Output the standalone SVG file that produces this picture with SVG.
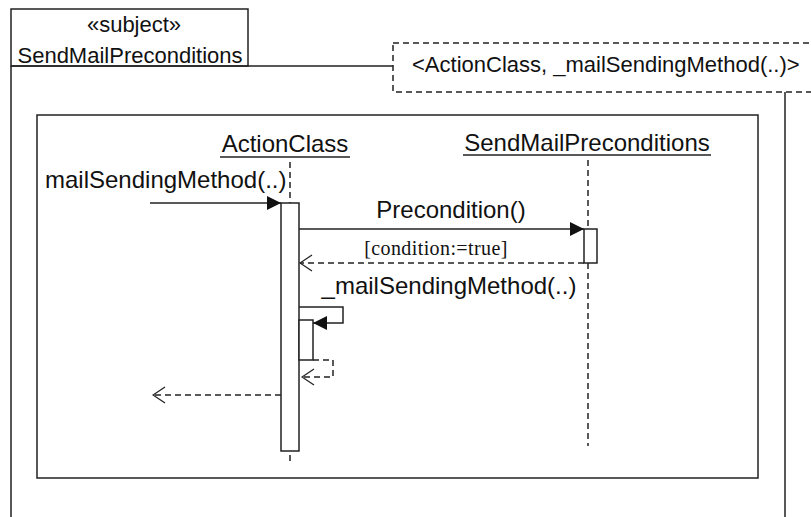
<svg xmlns="http://www.w3.org/2000/svg" width="811" height="517" viewBox="0 0 811 517">
  <style>
    .ln { fill: none; stroke: #222; stroke-width: 1.5; }
    .dash { fill: none; stroke: #222; stroke-width: 1.5; stroke-dasharray: 6 4; }
    .box { fill: #fff; stroke: #222; stroke-width: 1.5; }
    .txt { font-family: "Liberation Sans", Arial, sans-serif; fill: #111; }
    .lbl { font-size: 24px; }
    .small { font-size: 22px; }
    .guard { font-family: "Liberation Serif", "Times New Roman", serif; font-size: 20px; fill: #111; letter-spacing: 0.4px; }
  </style>
  <defs>
    <marker id="filled" viewBox="0 0 14 14" refX="14" refY="7" markerWidth="14" markerHeight="14" markerUnits="userSpaceOnUse" orient="auto">
      <path d="M0,0 L14,7 L0,14 Z" fill="#111"/>
    </marker>
    <marker id="open" viewBox="0 0 14 18" refX="13" refY="9" markerWidth="14" markerHeight="18" markerUnits="userSpaceOnUse" orient="auto">
      <path d="M1,1 L13,9 L1,17" fill="none" stroke="#222" stroke-width="1.3"/>
    </marker>
  </defs>

  <rect width="811" height="517" fill="#fff"/>

  <!-- subject frame with name tab -->
  <g id="subject-frame">
    <rect x="11" y="9" width="237" height="57" class="ln"/>
    <path d="M11,66 L11,517 M11,66 L393,66 M785,92 L785,517" class="ln"/>
    <text x="134" y="32" text-anchor="middle" class="txt small">«subject»</text>
    <text x="130" y="63" text-anchor="middle" class="txt small">SendMailPreconditions</text>
  </g>

  <!-- template parameter box -->
  <g id="template-params">
    <rect x="393" y="43" width="430" height="49" class="dash" fill="#fff"/>
    <text x="412" y="72" class="txt small">&lt;ActionClass, _mailSendingMethod(..)&gt;</text>
  </g>

  <!-- interaction frame -->
  <g id="interaction-frame">
    <rect x="37" y="115" width="721" height="363" class="ln" stroke-width="2"/>
  </g>

  <!-- lifeline: ActionClass -->
  <g id="lifeline-actionclass">
    <text x="285" y="152" text-anchor="middle" class="txt lbl">ActionClass</text>
    <line x1="220" y1="157" x2="350" y2="157" class="ln"/>
    <line x1="290" y1="162" x2="290" y2="203" class="dash"/>
    <line x1="290" y1="455" x2="290" y2="464" class="dash"/>
    <rect x="281" y="203" width="18" height="248" class="box"/>
    <rect x="299" y="320" width="14" height="40" class="box"/>
  </g>

  <!-- lifeline: SendMailPreconditions -->
  <g id="lifeline-sendmailpreconditions">
    <text x="587" y="151" text-anchor="middle" class="txt lbl">SendMailPreconditions</text>
    <line x1="463" y1="155" x2="711" y2="155" class="ln"/>
    <line x1="588" y1="160" x2="588" y2="229" class="dash"/>
    <line x1="588" y1="263" x2="588" y2="446" class="dash"/>
    <rect x="584" y="229" width="13" height="34" class="box"/>
  </g>

  <!-- messages -->
  <g id="messages">
    <text x="45" y="188" class="txt lbl">mailSendingMethod(..)</text>
    <line x1="150" y1="203" x2="281" y2="203" class="ln" marker-end="url(#filled)"/>

    <text x="451" y="218" text-anchor="middle" class="txt lbl">Precondition()</text>
    <line x1="299" y1="229" x2="584" y2="229" class="ln" marker-end="url(#filled)"/>

    <text x="436" y="255" text-anchor="middle" class="guard">[condition:=true]</text>
    <line x1="584" y1="263" x2="300" y2="263" class="dash" marker-end="url(#open)"/>

    <text x="449" y="294" text-anchor="middle" class="txt lbl">_mailSendingMethod(..)</text>
    <polyline points="299,307 343,307 343,323 313,323" class="ln" marker-end="url(#filled)"/>
    <polyline points="313,360 333,360 333,377 302,377" class="dash" marker-end="url(#open)"/>

    <line x1="281" y1="395" x2="153" y2="395" class="dash" marker-end="url(#open)"/>
  </g>
</svg>
